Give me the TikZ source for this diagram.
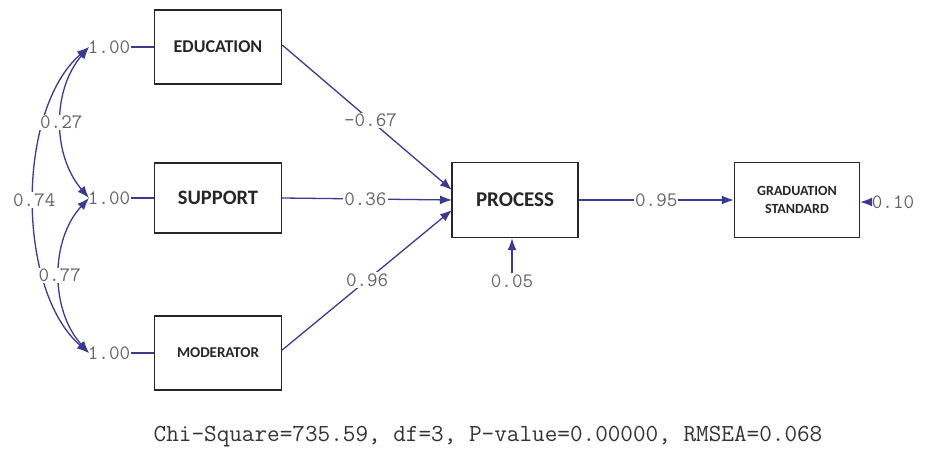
\documentclass[tikz,border=0pt]{standalone}
\usepackage{fontspec}
\setmainfont{Carlito}
\usetikzlibrary{arrows.meta}
\definecolor{pathblue}{RGB}{58,58,150}
\definecolor{labgray}{RGB}{100,100,100}
\begin{document}
\begin{tikzpicture}[x=1pt,y=-1pt,
  varbox/.style={draw=black!85,line width=1.4pt,minimum width=127pt,minimum height=74pt,inner sep=0pt,align=center,font=\bfseries,text=black!85},
  coef/.style={font=\ttfamily\fontsize{20.5}{22}\selectfont,text=labgray,inner sep=1pt},
  coefw/.style={coef,fill=white},
  path/.style={draw=pathblue,line width=1.3pt},
  tip/.style={-{Latex[length=12pt,width=9pt]}},
  tips/.style={{Latex[length=12pt,width=9pt]}-{Latex[length=12pt,width=9pt]}}]
\useasboundingbox (0,0) rectangle (929,461);
\node[varbox,font=\bfseries\fontsize{18}{20}\selectfont] (edu) at (218,47) {EDUCATION};
\node[varbox,minimum height=70pt,font=\bfseries\fontsize{20.5}{22}\selectfont] (sup) at (218,198) {SUPPORT};
\node[varbox,font=\bfseries\fontsize{15}{17}\selectfont] (mod) at (218,353) {MODERATOR};
\node[varbox,minimum width=126pt,minimum height=75pt,font=\bfseries\fontsize{21}{23}\selectfont] (proc) at (515,200) {PROCESS};
\node[varbox,minimum width=125pt,minimum height=75pt,font=\bfseries\fontsize{14}{18}\selectfont] (grad) at (797,200) {GRADUATION\\STANDARD};
% variances
\node[coef] (v1) at (109,47) {1.00};
\node[coef] (v2) at (109,198) {1.00};
\node[coef] (v3) at (109,353) {1.00};
\draw[path] (v1.east) -- (edu.west);
\draw[path] (v2.east) -- (sup.west);
\draw[path] (v3.east) -- (mod.west);
\coordinate (a1) at (89,47);
\coordinate (a2) at (89,198);
\coordinate (a3) at (89,353);
% covariances
\draw[path,tips] (a1) .. controls (16,110) and (16,290) .. (a3) node[coefw,pos=0.5] {0.74};
\draw[path,tips] (a1) .. controls (52,90) and (52,155) .. (a2) node[coefw,pos=0.5] {0.27};
\draw[path,tips] (a2) .. controls (50,240) and (50,310) .. (a3) node[coefw,pos=0.5] {0.77};
% structural paths
\coordinate (pe) at (452,190);
\coordinate (ps) at (452,200);
\coordinate (pm) at (452,210);
\draw[path,tip] (edu.east |- 282,45) -- (pe) node[coefw,pos=0.52] {-0.67};
\draw[path,tip] (sup.east) -- (ps) node[coefw,pos=0.49] {0.36};
\draw[path,tip] (mod.east |- 282,350) -- (pm) node[coefw,pos=0.5] {0.96};
\draw[path,tip] (proc.east) -- (grad.west) node[coefw,pos=0.5] {0.95};
% errors
\node[coef] (e1) at (512,281) {0.05};
\draw[path,tip] (e1.north) -- (proc.south -| e1.north);
\node[coef] (e2) at (893,202) {0.10};
\draw[path,tip] (e2.west) -- (grad.east |- e2.west);
% fit
\node[coef,text=black!80,font=\ttfamily\fontsize{24.5}{26}\selectfont] (fit) at (488,437) {Chi-Square=735.59, df=3, P-value=0.00000, RMSEA=0.068};
\end{tikzpicture}
\end{document}
